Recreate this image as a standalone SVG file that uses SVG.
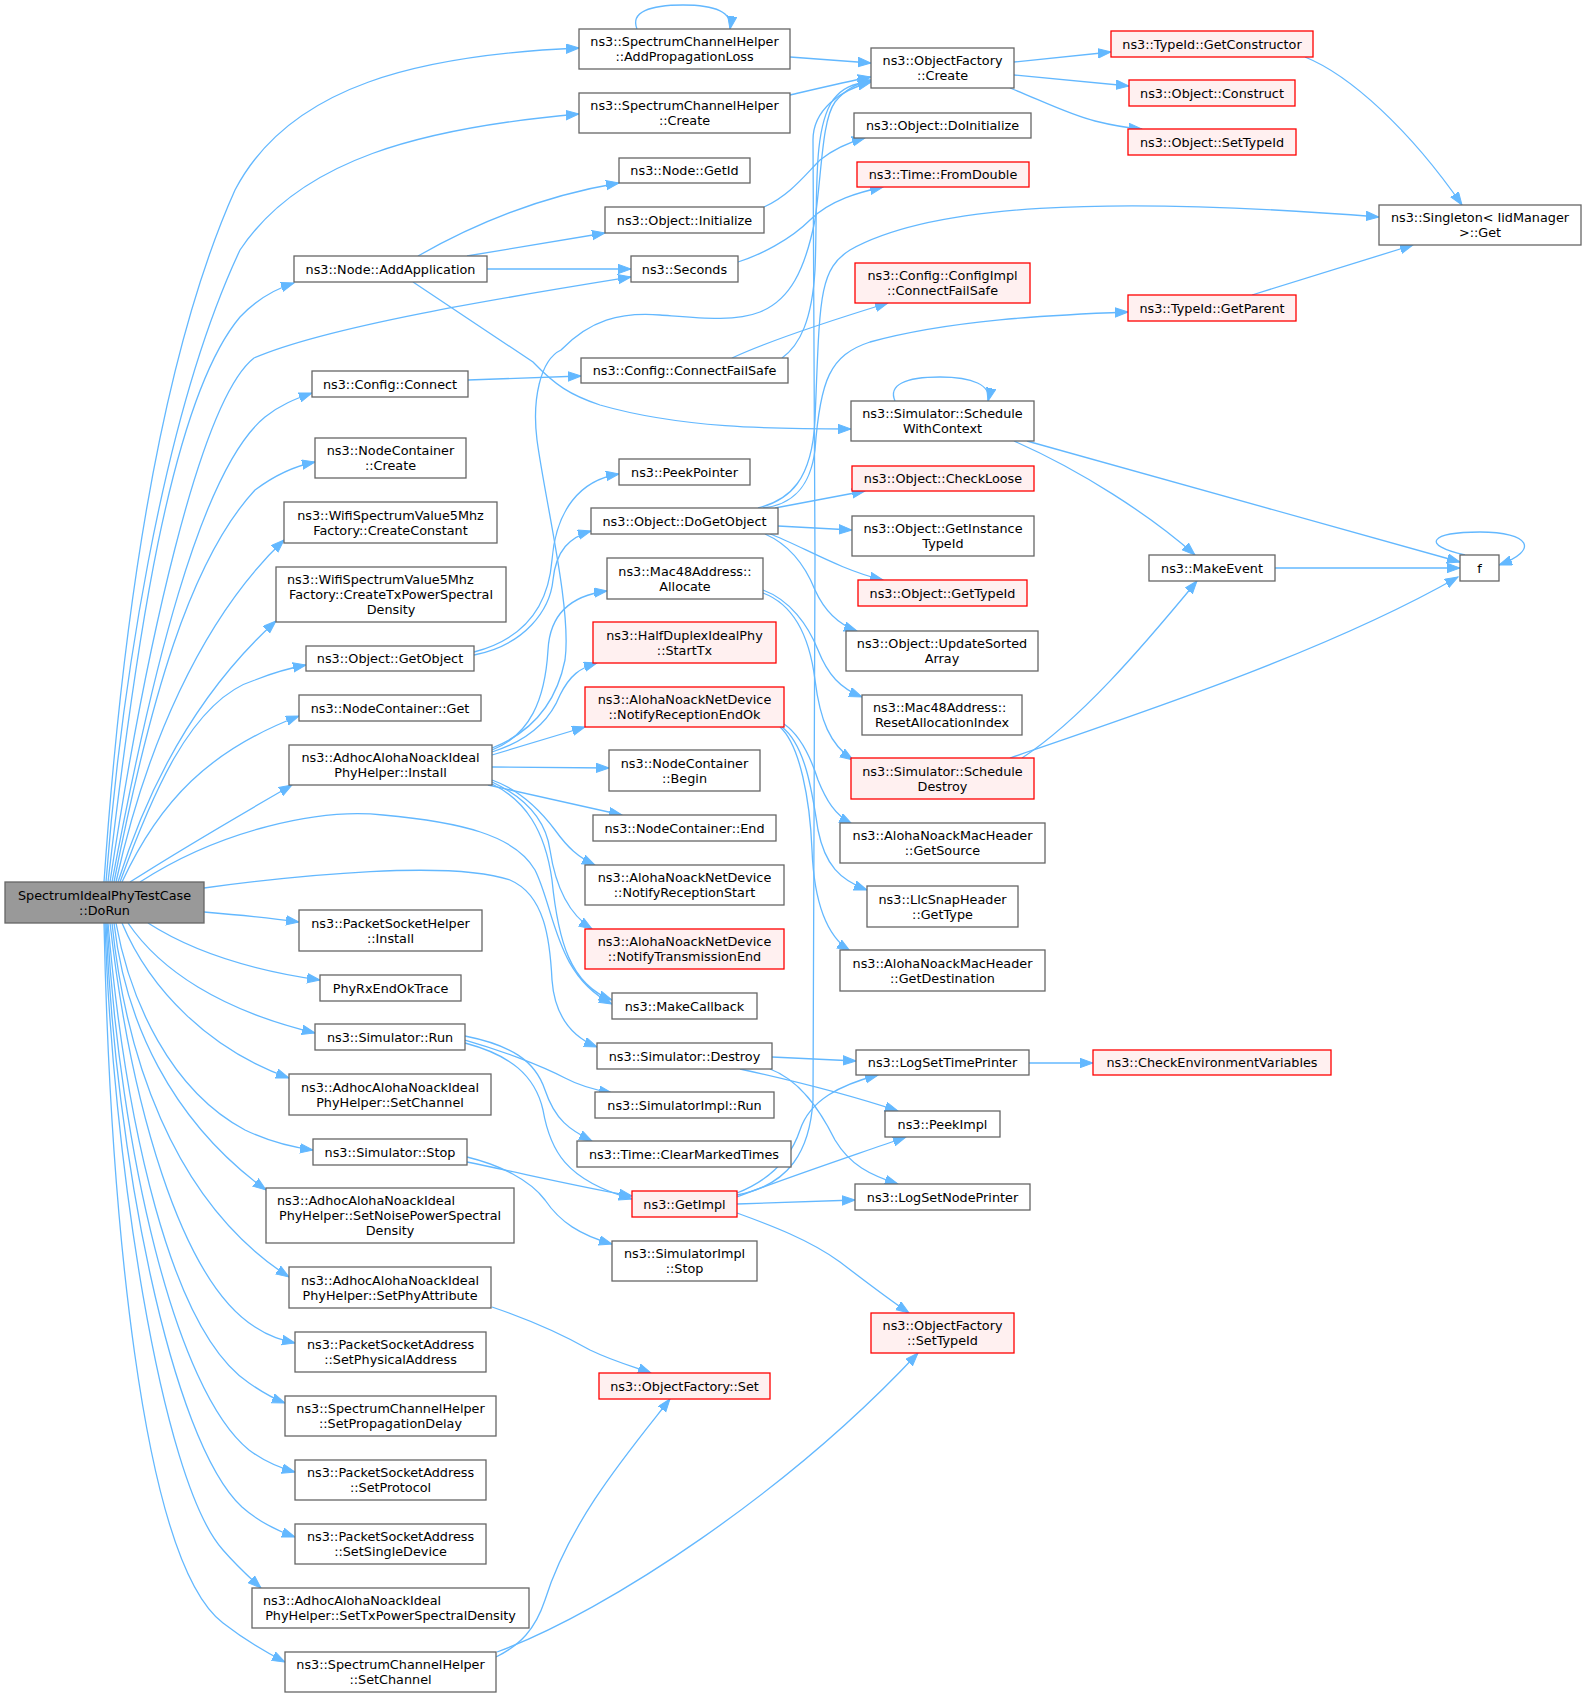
<svg xmlns="http://www.w3.org/2000/svg" width="1587" height="1697" viewBox="0 0 1587 1697">
<style>
rect{stroke-width:1.3}
.n rect{fill:#ffffff;stroke:#666666}
.r rect{fill:#fff0f0;stroke:#ff0000}
.g rect{fill:#999999;stroke:#666666}
text{font-family:"DejaVu Sans","Liberation Sans",sans-serif;font-size:12.8px;fill:#000000;text-anchor:middle}
text.l{text-anchor:start}
#edges path{fill:none;stroke:#63b8ff;stroke-width:1.3;marker-end:url(#a)}
</style>
<defs>
<marker id="a" markerWidth="14" markerHeight="11" refX="13" refY="5" orient="auto" markerUnits="userSpaceOnUse">
<path d="M0,0.3 L13,5 L0,9.7 z" fill="#63b8ff" stroke="#63b8ff" stroke-width="1"/>
</marker>
</defs>
<rect width="1587" height="1697" fill="#ffffff"/>
<g id="edges">
<path d="M104,882 C118,680 150,380 235,190 C290,85 420,55 579,48"/>
<path d="M106,882 C120,700 160,420 240,250 C300,160 420,128 579,114"/>
<path d="M108,882 C135,650 170,400 240,317 C258,298 275,289 294,283"/>
<path d="M110,882 C145,650 200,400 254,358 C330,325 520,295 631,277"/>
<path d="M112,882 C150,680 200,470 265,417 C280,405 295,399 312,393"/>
<path d="M114,882 C150,700 190,560 255,490 C275,475 295,466 315,462"/>
<path d="M116,882 C145,750 200,620 284,540"/>
<path d="M118,882 C150,780 200,690 276,621"/>
<path d="M120,882 C150,800 190,700 255,680 C275,672 290,668 306,665"/>
<path d="M122,882 C160,800 210,750 299,716"/>
<path d="M130,882 C180,850 240,815 292,785"/>
<path d="M140,882 C220,830 320,808 383,815 C460,822 515,835 535,870 C555,910 555,975 612,1004"/>
<path d="M204,888 C300,875 450,860 510,880 C545,895 550,940 552,980 C555,1020 575,1038 597,1047"/>
<path d="M204,912 C240,915 270,918 299,922"/>
<path d="M148,923 C190,950 250,970 320,980"/>
<path d="M128,923 C160,970 220,1010 315,1033"/>
<path d="M122,923 C150,990 210,1050 289,1078"/>
<path d="M116,923 C130,1000 170,1090 245,1130 C270,1142 290,1147 313,1150"/>
<path d="M114,923 C125,1020 170,1120 266,1190"/>
<path d="M112,923 C125,1050 170,1200 289,1277"/>
<path d="M110,923 C130,1100 180,1280 255,1327 C270,1337 282,1340 295,1343"/>
<path d="M108,923 C125,1120 170,1330 249,1383 C262,1392 272,1398 285,1403"/>
<path d="M107,923 C120,1150 175,1390 249,1450 C265,1462 280,1468 295,1472"/>
<path d="M106,923 C115,1150 170,1440 242,1507 C260,1523 278,1531 295,1537"/>
<path d="M105,923 C112,1150 160,1480 223,1550 C236,1565 250,1578 261,1588"/>
<path d="M104,923 C110,1200 140,1560 223,1623 C245,1640 265,1652 285,1662"/>
<path d="M637,29 C630,12 650,5 683,5 C715,5 733,12 730,29"/>
<path d="M790,57 L871,63"/>
<path d="M790,95 C820,88 845,82 871,77"/>
<path d="M1014,62 L1111,52"/>
<path d="M1014,75 L1129,86"/>
<path d="M1010,88 C1040,100 1070,115 1095,121 C1115,126 1128,128 1142,129"/>
<path d="M1305,57 C1350,75 1410,130 1462,205"/>
<path d="M1252,295 L1413,245"/>
<path d="M418,256 C460,232 530,198 619,183"/>
<path d="M467,256 L605,233"/>
<path d="M487,269 L631,269"/>
<path d="M413,282 L533,362 C555,385 570,395 600,405 C680,428 770,429 851,429"/>
<path d="M764,207 C790,195 805,175 820,160 C835,148 850,142 865,138"/>
<path d="M738,262 C760,255 790,240 810,220 C830,200 860,192 883,187"/>
<path d="M468,380 L581,376"/>
<path d="M732,358 C760,345 800,330 888,303"/>
<path d="M782,358 C800,345 812,320 815,270 C818,200 812,130 833,100 C842,88 852,84 871,81"/>
<path d="M492,748 C525,735 555,710 565,660 C572,610 545,500 537,440 C532,400 540,360 561,350 C590,320 620,312 660,315 C700,318 735,322 760,312 C790,300 805,270 815,220 C822,170 822,120 835,102 C845,90 855,84 871,80"/>
<path d="M474,652 C520,640 548,610 552,560 C556,510 580,480 619,474"/>
<path d="M474,655 C525,645 550,610 553,580 C556,550 570,537 591,531"/>
<path d="M775,508 L865,491"/>
<path d="M778,526 L852,530"/>
<path d="M770,534 C800,545 840,570 883,580"/>
<path d="M765,534 C790,545 805,565 815,590 C825,612 840,625 857,631"/>
<path d="M763,508 C790,505 810,490 815,450 C820,380 830,355 870,342 C950,320 1050,315 1128,312"/>
<path d="M758,508 C790,500 812,480 815,420 C820,300 818,270 850,250 C930,205 1100,195 1379,217"/>
<path d="M763,590 C790,600 808,625 818,650 C828,675 840,688 862,697"/>
<path d="M763,593 C795,605 810,640 815,680 C820,720 830,745 853,760"/>
<path d="M784,724 C800,735 810,755 818,780 C826,800 835,815 852,824"/>
<path d="M782,727 C805,745 812,790 818,830 C825,865 840,880 867,890"/>
<path d="M780,727 C800,745 810,800 812,850 C814,900 825,935 850,951"/>
<path d="M895,401 C888,385 905,377 940,377 C972,377 992,385 988,401"/>
<path d="M1014,441 C1080,470 1150,515 1195,555"/>
<path d="M1027,441 L1460,562"/>
<path d="M1275,568 L1460,568"/>
<path d="M1022,758 C1080,720 1140,650 1197,581"/>
<path d="M1010,758 C1150,710 1330,650 1458,577"/>
<path d="M1465,555 C1420,545 1430,532 1480,532 C1530,532 1540,550 1499,565"/>
<path d="M465,1040 C500,1050 540,1065 565,1078 C580,1086 595,1090 612,1093"/>
<path d="M465,1036 C510,1045 535,1060 545,1090 C555,1120 570,1130 592,1141"/>
<path d="M465,1043 C510,1055 535,1075 543,1110 C550,1150 565,1180 632,1199"/>
<path d="M467,1162 C530,1175 580,1187 632,1196"/>
<path d="M467,1157 C500,1165 530,1180 545,1200 C560,1222 580,1235 612,1244"/>
<path d="M772,1057 L856,1061"/>
<path d="M740,1069 C790,1080 850,1095 898,1111"/>
<path d="M770,1069 C800,1080 820,1110 835,1140 C850,1165 870,1175 898,1184"/>
<path d="M737,1193 C770,1180 790,1160 800,1130 C810,1100 840,1085 878,1075"/>
<path d="M737,1197 C780,1180 840,1160 906,1137"/>
<path d="M737,1204 L855,1200"/>
<path d="M737,1213 C770,1225 810,1240 840,1262 C870,1285 890,1300 909,1313"/>
<path d="M737,1195 C790,1185 810,1150 813,1100 L815,560 L813,140 C813,110 840,90 871,82"/>
<path d="M1029,1063 L1093,1063"/>
<path d="M492,1307 C530,1320 560,1333 590,1350 C615,1362 635,1367 651,1373"/>
<path d="M496,1657 C520,1645 535,1630 545,1600 C570,1520 630,1450 670,1399"/>
<path d="M497,1652 C610,1610 790,1490 918,1353"/>
<path d="M492,750 C530,735 545,700 548,650 C550,610 575,595 607,591"/>
<path d="M492,752 C530,740 550,720 560,695 C570,675 580,668 597,663"/>
<path d="M492,755 L585,727"/>
<path d="M492,767 L609,768"/>
<path d="M488,785 L622,815"/>
<path d="M492,780 C520,790 540,810 555,830 C568,848 578,857 595,865"/>
<path d="M492,782 C520,795 545,815 550,850 C556,890 570,915 592,929"/>
<path d="M492,784 C525,800 545,830 552,880 C558,940 570,985 612,1000"/>
</g>
<g id="n0" class="g"><rect x="5" y="882" width="199" height="41"/><text x="104.5" y="899.5">SpectrumIdealPhyTestCase</text><text x="104.5" y="914.5">::DoRun</text></g>
<g id="n1" class="n"><rect x="579" y="29" width="211" height="40"/><text x="684.5" y="46">ns3::SpectrumChannelHelper</text><text x="684.5" y="61">::AddPropagationLoss</text></g>
<g id="n2" class="n"><rect x="579" y="93" width="211" height="40"/><text x="684.5" y="110">ns3::SpectrumChannelHelper</text><text x="684.5" y="125">::Create</text></g>
<g id="n3" class="n"><rect x="871" y="48" width="143" height="40"/><text x="942.5" y="65">ns3::ObjectFactory</text><text x="942.5" y="80">::Create</text></g>
<g id="n4" class="r"><rect x="1111" y="31" width="202" height="26"/><text x="1212" y="48.5">ns3::TypeId::GetConstructor</text></g>
<g id="n5" class="r"><rect x="1129" y="80" width="166" height="26"/><text x="1212" y="97.5">ns3::Object::Construct</text></g>
<g id="n6" class="r"><rect x="1128" y="129" width="168" height="26"/><text x="1212" y="146.5">ns3::Object::SetTypeId</text></g>
<g id="n7" class="n"><rect x="1379" y="205" width="202" height="40"/><text x="1480" y="222">ns3::Singleton&lt; IidManager</text><text x="1480" y="237">&gt;::Get</text></g>
<g id="n8" class="n"><rect x="619" y="158" width="131" height="25"/><text x="684.5" y="175">ns3::Node::GetId</text></g>
<g id="n9" class="n"><rect x="605" y="207" width="159" height="26"/><text x="684.5" y="224.5">ns3::Object::Initialize</text></g>
<g id="n10" class="n"><rect x="854" y="113" width="177" height="25"/><text x="942.5" y="130">ns3::Object::DoInitialize</text></g>
<g id="n11" class="n"><rect x="631" y="256" width="107" height="26"/><text x="684.5" y="273.5">ns3::Seconds</text></g>
<g id="n12" class="r"><rect x="857" y="162" width="172" height="25"/><text x="943" y="179">ns3::Time::FromDouble</text></g>
<g id="n13" class="n"><rect x="294" y="256" width="193" height="26"/><text x="390.5" y="273.5">ns3::Node::AddApplication</text></g>
<g id="n14" class="n"><rect x="312" y="371" width="156" height="26"/><text x="390" y="388.5">ns3::Config::Connect</text></g>
<g id="n15" class="n"><rect x="581" y="358" width="207" height="25"/><text x="684.5" y="375">ns3::Config::ConnectFailSafe</text></g>
<g id="n16" class="r"><rect x="855" y="263" width="175" height="40"/><text x="942.5" y="280">ns3::Config::ConfigImpl</text><text x="942.5" y="295">::ConnectFailSafe</text></g>
<g id="n17" class="r"><rect x="1128" y="295" width="168" height="26"/><text x="1212" y="312.5">ns3::TypeId::GetParent</text></g>
<g id="n18" class="n"><rect x="851" y="401" width="183" height="40"/><text x="942.5" y="418">ns3::Simulator::Schedule</text><text x="942.5" y="433">WithContext</text></g>
<g id="n19" class="n"><rect x="315" y="438" width="151" height="40"/><text x="390.5" y="455">ns3::NodeContainer</text><text x="390.5" y="470">::Create</text></g>
<g id="n20" class="n"><rect x="284" y="502" width="213" height="41"/><text x="390.5" y="519.5">ns3::WifiSpectrumValue5Mhz</text><text x="390.5" y="534.5">Factory::CreateConstant</text></g>
<g id="n21" class="n"><rect x="276" y="567" width="230" height="55"/><text class="l" x="287" y="584">ns3::WifiSpectrumValue5Mhz</text><text x="391" y="599">Factory::CreateTxPowerSpectral</text><text x="391" y="614">Density</text></g>
<g id="n22" class="n"><rect x="306" y="646" width="168" height="25"/><text x="390" y="663">ns3::Object::GetObject</text></g>
<g id="n23" class="n"><rect x="299" y="695" width="182" height="26"/><text x="390" y="712.5">ns3::NodeContainer::Get</text></g>
<g id="n24" class="n"><rect x="289" y="745" width="203" height="40"/><text x="390.5" y="762">ns3::AdhocAlohaNoackIdeal</text><text x="390.5" y="777">PhyHelper::Install</text></g>
<g id="n25" class="n"><rect x="619" y="459" width="131" height="26"/><text x="684.5" y="476.5">ns3::PeekPointer</text></g>
<g id="n26" class="n"><rect x="591" y="508" width="187" height="26"/><text x="684.5" y="525.5">ns3::Object::DoGetObject</text></g>
<g id="n27" class="n"><rect x="607" y="558" width="156" height="41"/><text x="685" y="575.5">ns3::Mac48Address::</text><text x="685" y="590.5">Allocate</text></g>
<g id="n28" class="r"><rect x="593" y="622" width="183" height="41"/><text x="684.5" y="639.5">ns3::HalfDuplexIdealPhy</text><text x="684.5" y="654.5">::StartTx</text></g>
<g id="n29" class="r"><rect x="585" y="687" width="199" height="40"/><text x="684.5" y="704">ns3::AlohaNoackNetDevice</text><text x="684.5" y="719">::NotifyReceptionEndOk</text></g>
<g id="n30" class="n"><rect x="609" y="750" width="151" height="41"/><text x="684.5" y="767.5">ns3::NodeContainer</text><text x="684.5" y="782.5">::Begin</text></g>
<g id="n31" class="n"><rect x="593" y="815" width="183" height="26"/><text x="684.5" y="832.5">ns3::NodeContainer::End</text></g>
<g id="n32" class="n"><rect x="585" y="865" width="199" height="40"/><text x="684.5" y="882">ns3::AlohaNoackNetDevice</text><text x="684.5" y="897">::NotifyReceptionStart</text></g>
<g id="n33" class="r"><rect x="585" y="929" width="199" height="40"/><text x="684.5" y="946">ns3::AlohaNoackNetDevice</text><text x="684.5" y="961">::NotifyTransmissionEnd</text></g>
<g id="n34" class="r"><rect x="852" y="466" width="182" height="25"/><text x="943" y="483">ns3::Object::CheckLoose</text></g>
<g id="n35" class="n"><rect x="852" y="516" width="182" height="40"/><text x="943" y="533">ns3::Object::GetInstance</text><text x="943" y="548">TypeId</text></g>
<g id="n36" class="r"><rect x="858" y="580" width="169" height="26"/><text x="942.5" y="597.5">ns3::Object::GetTypeId</text></g>
<g id="n37" class="n"><rect x="846" y="631" width="192" height="40"/><text x="942" y="648">ns3::Object::UpdateSorted</text><text x="942" y="663">Array</text></g>
<g id="n38" class="n"><rect x="862" y="695" width="160" height="40"/><text class="l" x="873" y="712">ns3::Mac48Address::</text><text x="942" y="727">ResetAllocationIndex</text></g>
<g id="n39" class="r"><rect x="851" y="758" width="183" height="41"/><text x="942.5" y="775.5">ns3::Simulator::Schedule</text><text x="942.5" y="790.5">Destroy</text></g>
<g id="n40" class="n"><rect x="840" y="823" width="205" height="40"/><text x="942.5" y="840">ns3::AlohaNoackMacHeader</text><text x="942.5" y="855">::GetSource</text></g>
<g id="n41" class="n"><rect x="1149" y="555" width="126" height="26"/><text x="1212" y="572.5">ns3::MakeEvent</text></g>
<g id="n42" class="n"><rect x="1460" y="555" width="39" height="26"/><text x="1479.5" y="572.5">f</text></g>
<g id="n43" class="n"><rect x="867" y="886" width="151" height="41"/><text x="942.5" y="903.5">ns3::LlcSnapHeader</text><text x="942.5" y="918.5">::GetType</text></g>
<g id="n44" class="n"><rect x="840" y="950" width="205" height="41"/><text x="942.5" y="967.5">ns3::AlohaNoackMacHeader</text><text x="942.5" y="982.5">::GetDestination</text></g>
<g id="n45" class="n"><rect x="299" y="910" width="183" height="41"/><text x="390.5" y="927.5">ns3::PacketSocketHelper</text><text x="390.5" y="942.5">::Install</text></g>
<g id="n46" class="n"><rect x="320" y="975" width="141" height="26"/><text x="390.5" y="992.5">PhyRxEndOkTrace</text></g>
<g id="n47" class="n"><rect x="315" y="1024" width="150" height="26"/><text x="390" y="1041.5">ns3::Simulator::Run</text></g>
<g id="n48" class="n"><rect x="289" y="1074" width="202" height="41"/><text x="390" y="1091.5">ns3::AdhocAlohaNoackIdeal</text><text x="390" y="1106.5">PhyHelper::SetChannel</text></g>
<g id="n49" class="n"><rect x="313" y="1139" width="154" height="26"/><text x="390" y="1156.5">ns3::Simulator::Stop</text></g>
<g id="n50" class="n"><rect x="266" y="1188" width="248" height="55"/><text class="l" x="277" y="1205">ns3::AdhocAlohaNoackIdeal</text><text x="390" y="1220">PhyHelper::SetNoisePowerSpectral</text><text x="390" y="1235">Density</text></g>
<g id="n51" class="n"><rect x="289" y="1267" width="202" height="41"/><text x="390" y="1284.5">ns3::AdhocAlohaNoackIdeal</text><text x="390" y="1299.5">PhyHelper::SetPhyAttribute</text></g>
<g id="n52" class="n"><rect x="612" y="993" width="145" height="26"/><text x="684.5" y="1010.5">ns3::MakeCallback</text></g>
<g id="n53" class="n"><rect x="597" y="1043" width="175" height="26"/><text x="684.5" y="1060.5">ns3::Simulator::Destroy</text></g>
<g id="n54" class="n"><rect x="595" y="1092" width="179" height="26"/><text x="684.5" y="1109.5">ns3::SimulatorImpl::Run</text></g>
<g id="n55" class="n"><rect x="577" y="1141" width="214" height="26"/><text x="684" y="1158.5">ns3::Time::ClearMarkedTimes</text></g>
<g id="n56" class="r"><rect x="632" y="1191" width="105" height="26"/><text x="684.5" y="1208.5">ns3::GetImpl</text></g>
<g id="n57" class="n"><rect x="612" y="1241" width="145" height="40"/><text x="684.5" y="1258">ns3::SimulatorImpl</text><text x="684.5" y="1273">::Stop</text></g>
<g id="n58" class="n"><rect x="856" y="1050" width="173" height="25"/><text x="942.5" y="1067">ns3::LogSetTimePrinter</text></g>
<g id="n59" class="r"><rect x="1093" y="1050" width="238" height="25"/><text x="1212" y="1067">ns3::CheckEnvironmentVariables</text></g>
<g id="n60" class="n"><rect x="885" y="1111" width="115" height="26"/><text x="942.5" y="1128.5">ns3::PeekImpl</text></g>
<g id="n61" class="n"><rect x="855" y="1184" width="175" height="26"/><text x="942.5" y="1201.5">ns3::LogSetNodePrinter</text></g>
<g id="n62" class="r"><rect x="871" y="1313" width="143" height="40"/><text x="942.5" y="1330">ns3::ObjectFactory</text><text x="942.5" y="1345">::SetTypeId</text></g>
<g id="n63" class="r"><rect x="599" y="1373" width="171" height="26"/><text x="684.5" y="1390.5">ns3::ObjectFactory::Set</text></g>
<g id="n64" class="n"><rect x="295" y="1332" width="191" height="40"/><text x="390.5" y="1349">ns3::PacketSocketAddress</text><text x="390.5" y="1364">::SetPhysicalAddress</text></g>
<g id="n65" class="n"><rect x="285" y="1396" width="211" height="40"/><text x="390.5" y="1413">ns3::SpectrumChannelHelper</text><text x="390.5" y="1428">::SetPropagationDelay</text></g>
<g id="n66" class="n"><rect x="295" y="1460" width="191" height="40"/><text x="390.5" y="1477">ns3::PacketSocketAddress</text><text x="390.5" y="1492">::SetProtocol</text></g>
<g id="n67" class="n"><rect x="295" y="1524" width="191" height="40"/><text x="390.5" y="1541">ns3::PacketSocketAddress</text><text x="390.5" y="1556">::SetSingleDevice</text></g>
<g id="n68" class="n"><rect x="252" y="1588" width="277" height="40"/><text class="l" x="263" y="1605">ns3::AdhocAlohaNoackIdeal</text><text x="390.5" y="1620">PhyHelper::SetTxPowerSpectralDensity</text></g>
<g id="n69" class="n"><rect x="285" y="1652" width="211" height="40"/><text x="390.5" y="1669">ns3::SpectrumChannelHelper</text><text x="390.5" y="1684">::SetChannel</text></g>
</svg>
